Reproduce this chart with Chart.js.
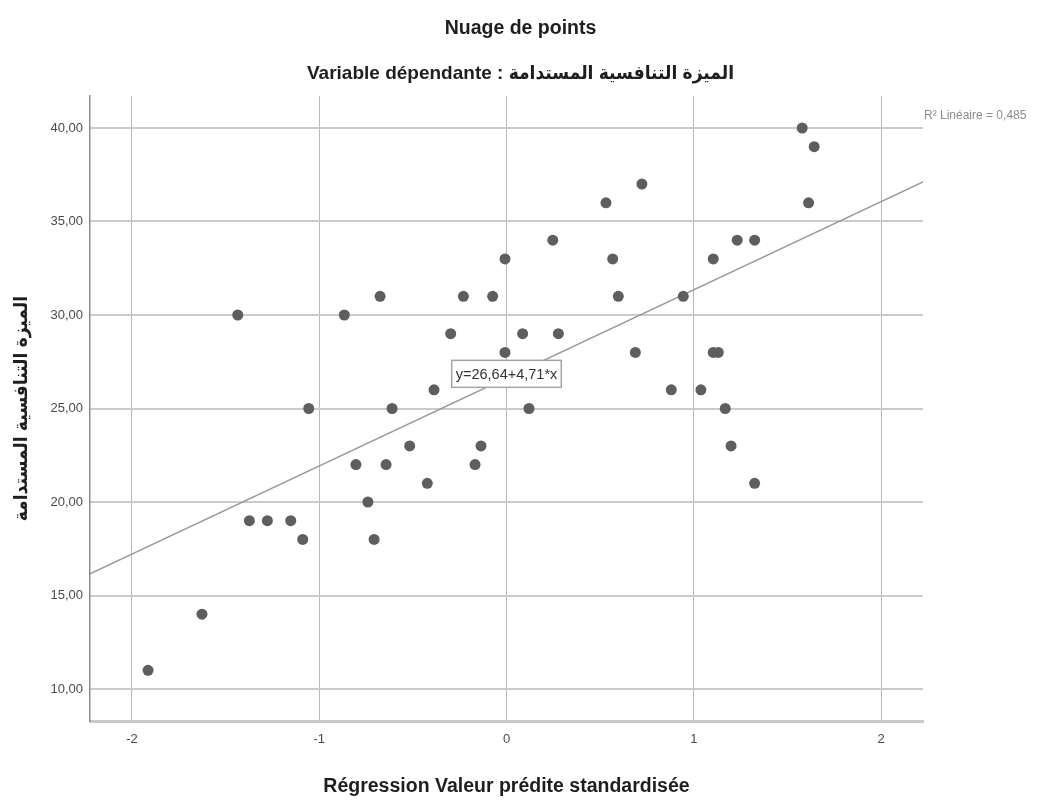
<!DOCTYPE html>
<html>
<head>
<meta charset="utf-8">
<title>Nuage de points</title>
<script src="https://cdn.jsdelivr.net/npm/chart.js@4.4.1/dist/chart.umd.min.js"></script>
<style>
    html, body { margin: 0; padding: 0; background: #ffffff; }
    #chartWrap { width: 1041px; height: 803px; }
</style>
</head>
<body>
<div id="chartWrap"><canvas id="scatterChart" width="1041" height="803"></canvas></div>
<script>
// Standardised predicted value (x) and dependent variable (y)
const predicted = [-1.914, -1.626, -1.435, -1.373, -1.277, -1.152, -1.088, -1.056, -0.866, -0.804,
                   -0.740, -0.707, -0.675, -0.643, -0.611, -0.517, -0.423, -0.387, -0.298, -0.230,
                   -0.168, -0.136, -0.074, -0.008, -0.008, 0.086, 0.120, 0.247, 0.277, 0.531,
                   0.567, 0.597, 0.688, 0.723, 0.880, 0.944, 1.038, 1.104, 1.104, 1.131,
                   1.168, 1.199, 1.232, 1.325, 1.325, 1.579, 1.613, 1.643];
const advantage = [11, 14, 30, 19, 19, 19, 18, 25, 30, 22,
                   20, 18, 31, 22, 25, 23, 21, 26, 29, 31,
                   22, 23, 31, 33, 28, 29, 25, 34, 29, 36,
                   33, 31, 28, 37, 26, 31, 26, 33, 28, 28,
                   25, 23, 34, 34, 21, 40, 36, 39];
const xTicks = [-2, -1, 0, 1, 2];
const yTicks = [10, 15, 20, 25, 30, 35, 40];
const xRange = [-2.224, 2.224];
const yRange = [8.29, 41.7];
const intercept = 26.64;
const slope = 4.71;
const rSquared = 0.485;

const arabicLabel = 'الميزة التنافسية المستدامة';
const FONT = '"Liberation Sans", Arial, "DejaVu Sans Condensed", "DejaVu Sans", sans-serif';

function frNum(v, digits) {
    return v.toFixed(digits).replace('.', ',');
}

const points = predicted.map((v, i) => ({ x: v, y: advantage[i] }));
// fit line from the printed equation, across the x axis
const fitLine = xRange.map(v => ({ x: v, y: intercept + slope * v }));

// Equation box in the middle of the line and the R² note at the right
const fitLabels = {
    id: 'fitLabels',
    afterDatasetsDraw(chart) {
        const { ctx, chartArea, scales } = chart;
        const eq = 'y=' + frNum(intercept, 2) + '+' + frNum(slope, 2) + '*x';
        ctx.save();
        ctx.font = '14.5px ' + FONT;
        const w = ctx.measureText(eq).width + 8;
        const h = 27;
        const cx = scales.x.getPixelForValue(0);
        const cy = scales.y.getPixelForValue(intercept) - 4;
        ctx.fillStyle = '#ffffff';
        ctx.fillRect(cx - w / 2, cy - h / 2, w, h);
        ctx.strokeStyle = '#a4a4a4';
        ctx.lineWidth = 1.5;
        ctx.strokeRect(cx - w / 2, cy - h / 2, w, h);
        ctx.fillStyle = '#333333';
        ctx.textAlign = 'center';
        ctx.textBaseline = 'middle';
        ctx.fillText(eq, cx, cy + 1);

        ctx.font = '12px ' + FONT;
        ctx.fillStyle = '#8c8c8c';
        ctx.textAlign = 'left';
        ctx.fillText('R² Linéaire = ' + frNum(rSquared, 3), chartArea.right + 1, chartArea.top + 19);
        ctx.restore();
    }
};

new Chart(document.getElementById('scatterChart'), {
    type: 'scatter',
    data: {
        datasets: [{
            label: arabicLabel,
            data: points,
            backgroundColor: '#5e5e5e',
            borderColor: '#5e5e5e',
            pointRadius: 5.5,
            pointHoverRadius: 5.5,
            borderWidth: 0
        }, {
            label: 'Linéaire',
            data: fitLine,
            showLine: true,
            borderColor: '#9a9a9a',
            borderWidth: 1.5,
            pointRadius: 0,
            pointHoverRadius: 0
        }]
    },
    options: {
        responsive: false,
        animation: false,
        layout: { padding: 0 },
        plugins: {
            legend: { display: false },
            tooltip: { enabled: false },
            title: {
                display: true,
                text: 'Nuage de points',
                color: '#1e1e1e',
                font: { family: FONT, size: 19.5, weight: 'bold' },
                padding: { top: 17, bottom: 0 }
            },
            subtitle: {
                display: true,
                text: 'Variable dépendante : ' + arabicLabel,
                color: '#1e1e1e',
                font: { family: FONT, size: 19, weight: 'bold' },
                padding: { top: 22, bottom: 11 }
            }
        },
        scales: {
            x: {
                type: 'linear',
                min: xRange[0],
                max: xRange[1],
                afterBuildTicks: scale => { scale.ticks = xTicks.map(v => ({ value: v })); },
                afterFit: scale => { scale.height = 82; },
                grid: { color: '#b8b8b8', lineWidth: 1, drawTicks: false },
                border: { color: '#c8c8c8', width: 3 },
                ticks: {
                    color: '#4a4a4a',
                    font: { family: FONT, size: 13 },
                    padding: 11,
                    callback: v => String(v)
                },
                title: {
                    display: true,
                    text: 'Régression Valeur prédite standardisée',
                    color: '#1e1e1e',
                    font: { family: FONT, size: 19.5, weight: 'bold' },
                    padding: { top: 0, bottom: 5 }
                }
            },
            y: {
                type: 'linear',
                min: yRange[0],
                max: yRange[1],
                afterBuildTicks: scale => { scale.ticks = yTicks.map(v => ({ value: v })); },
                afterFit: scale => { scale.width = 90; },
                grid: { color: '#cbcbcb', lineWidth: 2, drawTicks: false },
                border: { color: '#8c8c8c', width: 1.5 },
                ticks: {
                    color: '#4a4a4a',
                    font: { family: FONT, size: 13 },
                    padding: 7,
                    callback: v => frNum(v, 2)
                },
                title: {
                    display: true,
                    text: arabicLabel,
                    color: '#1e1e1e',
                    font: { family: FONT, size: 19, weight: 'bold' },
                    padding: { top: 10, bottom: 0 }
                }
            },
            // empty band on the right for the R² note
            side: {
                type: 'linear',
                position: 'right',
                display: true,
                afterFit: scale => { scale.width = 118; },
                grid: { display: false },
                border: { display: false },
                ticks: { display: false }
            }
        }
    },
    plugins: [fitLabels]
});
</script>
</body>
</html>
